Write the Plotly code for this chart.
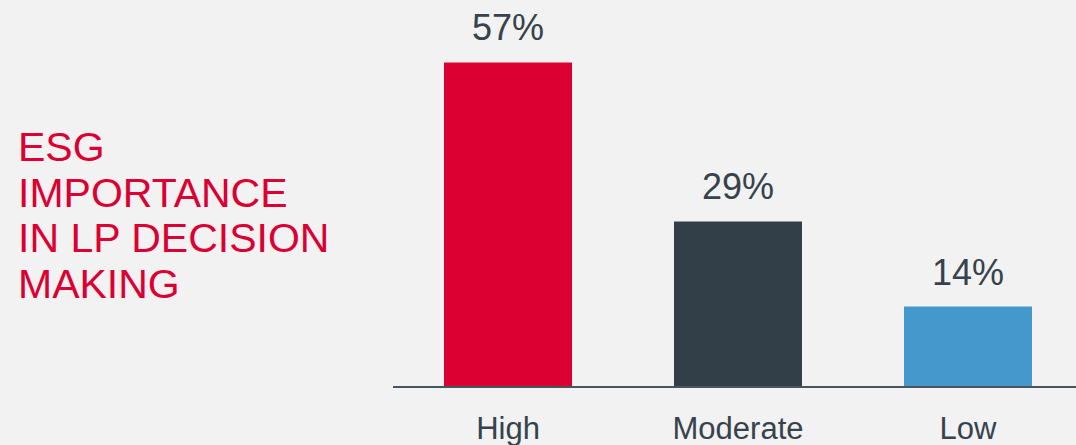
import plotly.graph_objects as go

categories = ["High", "Moderate", "Low"]
values = [57, 29, 14]
labels = ["57%", "29%", "14%"]
colors = ["#dc0032", "#333f48", "#4598cb"]
title_lines = ["ESG", "IMPORTANCE", "IN LP DECISION", "MAKING"]

BG = "#f2f2f2"
TXT = "#36424c"
FONT = "Liberation Sans, Arial, Helvetica, sans-serif"

fig = go.Figure()
fig.add_trace(go.Bar(
    x=categories, y=values, marker=dict(color=colors, line=dict(width=0)),
    width=0.5565, hoverinfo="skip",
))

annotations = []
for c, v, t in zip(categories, values, labels):
    annotations.append(dict(x=c, y=v, xref="x", yref="y", text=t, showarrow=False,
                            yanchor="bottom", yshift=12,
                            font=dict(size=36, color=TXT, family=FONT)))

line_px = [147, 193, 238, 284]
for line, py in zip(title_lines, line_px):
    annotations.append(dict(x=(16 - 393) / 683, y=(386 - py) / 386, xref="paper", yref="paper",
                            text=line, showarrow=False, xanchor="left", yanchor="middle",
                            font=dict(size=41, color="#dc0032", family=FONT)))

fig.update_layout(
    width=1076, height=445,
    margin=dict(l=393, r=0, t=0, b=59),
    paper_bgcolor=BG, plot_bgcolor=BG,
    showlegend=False,
    annotations=annotations,
    xaxis=dict(range=[-0.5, 2.4696], showgrid=False, zeroline=False,
               showline=True, linecolor="#4a545d", linewidth=2,
               ticks="", tickfont=dict(size=31, color=TXT, family=FONT),
               ticklabelstandoff=14, fixedrange=True),
    yaxis=dict(range=[0, 68], visible=False, fixedrange=True),
)

fig.write_html("out.html", config={"displayModeBar": False},
               post_script="document.body.style.margin='0';document.body.style.overflow='hidden';")
